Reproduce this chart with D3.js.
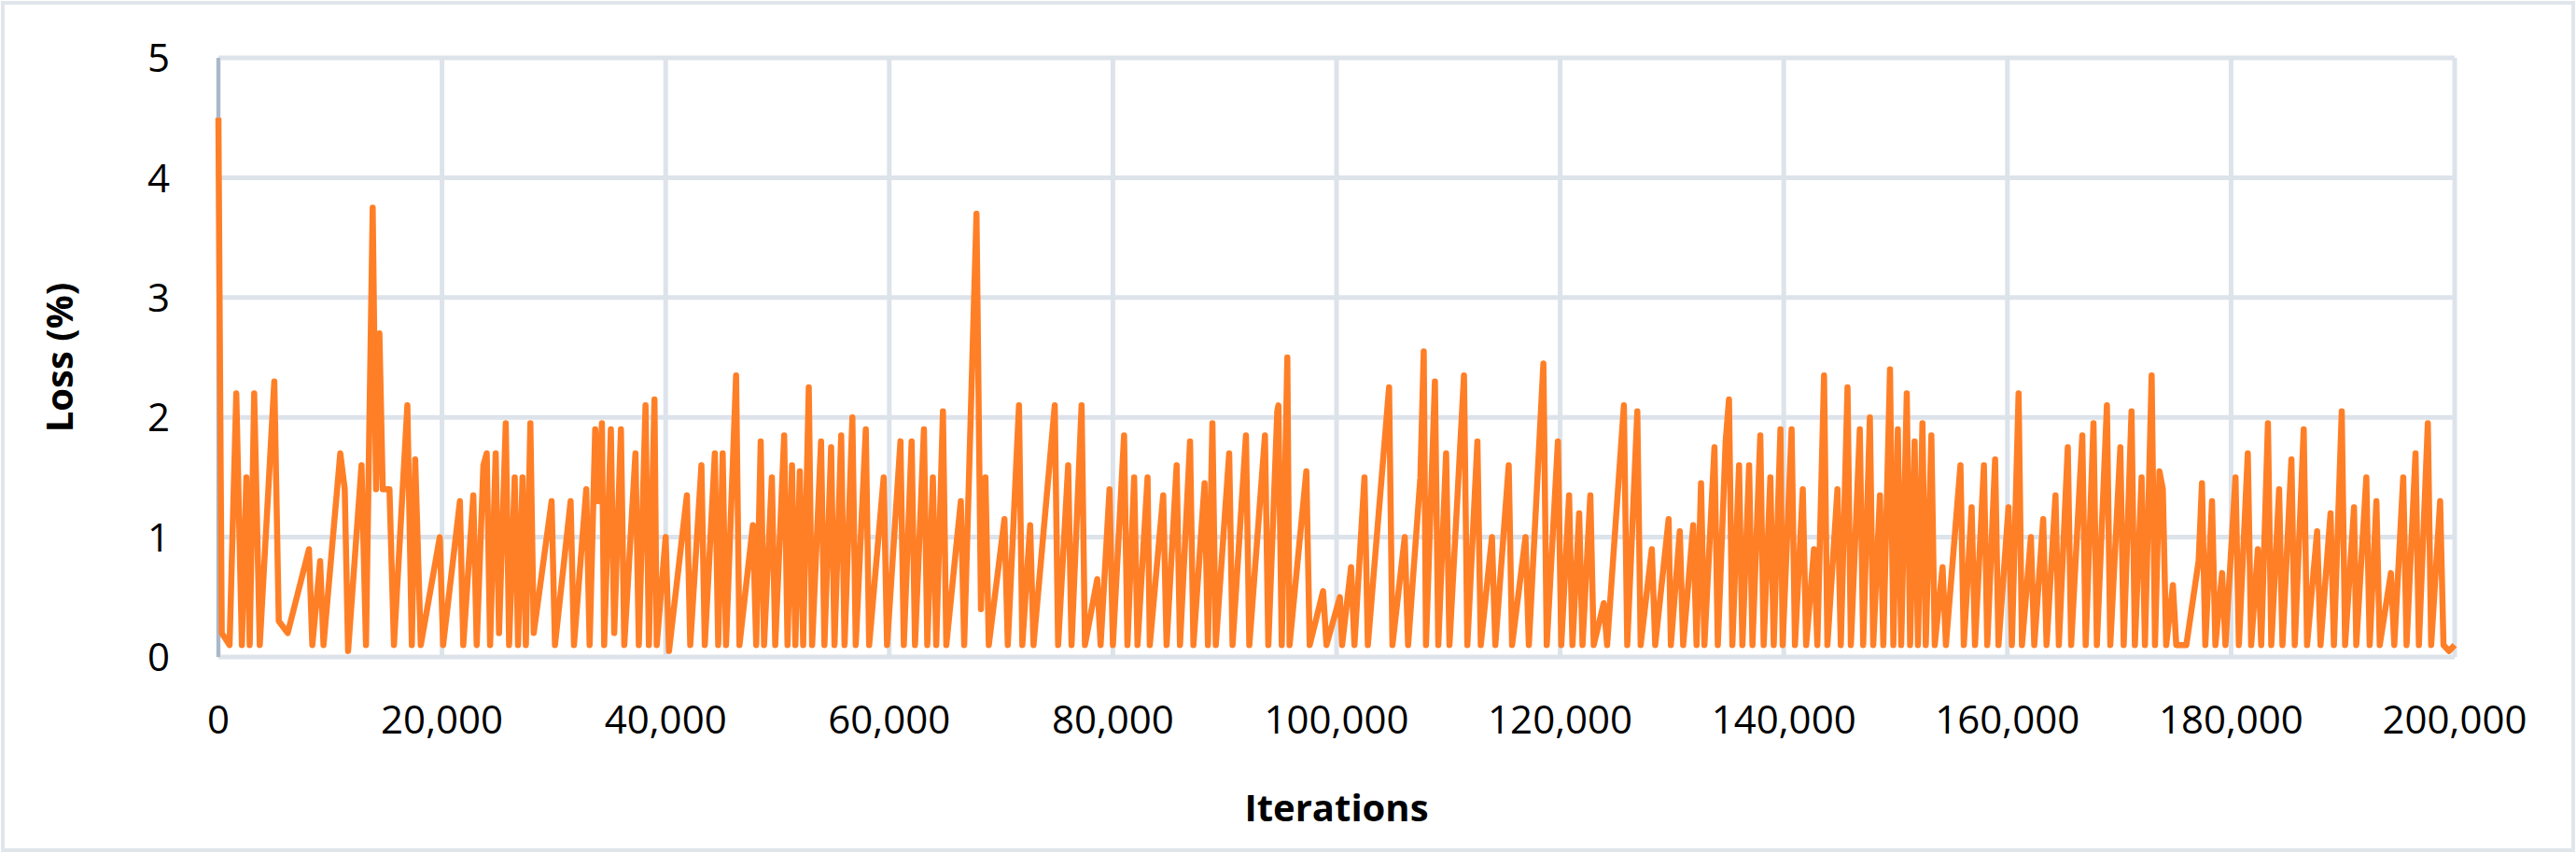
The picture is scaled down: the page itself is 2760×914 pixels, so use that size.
<!DOCTYPE html>
<html><head><meta charset="utf-8">
<script src="https://cdn.jsdelivr.net/npm/d3@7"></script>
<style>body{margin:0;background:#fff}svg{display:block}</style>
</head><body>
<script>
// iterations (thousands) and loss (%)
const iterK = [0,0.3,1.0,1.6,2.1,2.5,2.8,3.2,3.7,5.0,5.4,6.2,8.1,8.4,9.1,9.4,10.9,11.3,11.6,12.8,13.2,13.8,14.1,14.4,14.7,15.3,15.7,16.9,17.3,17.6,18.1,19.8,20.1,21.6,21.9,22.8,23.1,23.7,24.0,24.3,24.8,25.1,25.7,26.0,26.5,26.8,27.2,27.5,27.9,28.2,29.8,30.1,31.5,31.8,32.9,33.2,33.7,34.0,34.3,34.5,35.1,35.4,36.0,36.3,37.3,37.6,38.2,38.5,39.0,39.2,40.0,40.3,41.9,42.2,43.2,43.5,44.4,44.7,45.1,45.4,46.3,46.6,47.8,48.1,48.5,48.8,49.5,49.8,50.6,50.9,51.3,51.6,52.0,52.3,52.8,53.1,53.9,54.2,54.8,55.1,55.7,56.0,56.7,57.0,57.9,58.2,59.5,59.8,61.0,61.3,62.0,62.3,63.1,63.4,63.9,64.2,64.8,65.1,66.4,66.7,67.8,68.2,68.6,68.9,70.3,70.6,71.6,71.9,72.6,72.9,74.8,75.1,76.0,76.3,77.2,77.5,78.6,78.9,79.7,80.0,81.0,81.3,81.9,82.2,83.1,83.3,84.5,84.8,85.7,86.0,86.9,87.2,88.2,88.5,88.9,89.2,90.4,90.7,91.9,92.2,93.6,93.9,94.7,94.8,95.1,95.6,95.8,97.3,97.6,98.8,99.1,100.3,100.5,101.3,101.6,102.5,102.8,104.7,105.0,106.1,106.4,107.5,107.8,108.0,108.8,109.1,109.8,110.1,111.4,111.7,112.6,112.9,113.9,114.2,115.4,115.7,116.9,117.2,118.5,118.8,119.8,120.1,120.8,121.1,121.7,122.0,122.7,123.0,123.9,124.2,125.7,126.0,126.9,127.2,128.2,128.5,129.7,129.9,130.7,131.0,131.9,132.2,132.6,132.9,133.8,134.1,134.8,135.1,135.4,136.0,136.3,136.9,137.2,137.9,138.2,138.8,139.1,139.7,139.9,140.7,141.0,141.7,142.0,142.7,143.0,143.6,143.9,144.8,145.1,145.7,146.0,146.8,147.1,147.7,148.0,148.6,148.9,149.5,149.8,150.2,150.5,151.0,151.3,151.7,152.0,152.4,152.7,153.2,153.5,154.2,154.5,155.8,156.1,156.8,157.1,157.9,158.2,158.9,159.2,160.1,160.4,161.0,161.3,162.1,162.4,163.2,163.5,164.3,164.6,165.4,165.7,166.7,167.0,167.7,168.0,168.9,169.2,170.1,170.4,171.1,171.4,172.0,172.3,172.9,173.2,173.6,173.9,174.2,174.8,175.1,176.0,177.1,177.4,177.7,178.3,178.6,179.2,179.5,180.4,180.7,181.5,181.8,182.4,182.7,183.3,183.6,184.3,184.6,185.4,185.7,186.5,186.8,187.7,188.0,188.9,189.2,189.9,190.2,191.0,191.2,192.1,192.4,193.0,193.3,194.3,194.6,195.4,195.7,196.5,196.8,197.6,197.9,198.7,199.0,199.5,200.0];
const loss = [4.5,0.2,0.1,2.2,0.1,1.5,0.1,2.2,0.1,2.3,0.3,0.2,0.9,0.1,0.8,0.1,1.7,1.4,0.05,1.6,0.1,3.75,1.4,2.7,1.4,1.4,0.1,2.1,0.1,1.65,0.1,1.0,0.1,1.3,0.1,1.35,0.1,1.6,1.7,0.1,1.7,0.2,1.95,0.1,1.5,0.1,1.5,0.1,1.95,0.2,1.3,0.1,1.3,0.1,1.4,0.1,1.9,1.3,1.95,0.1,1.9,0.2,1.9,0.1,1.7,0.1,2.1,0.1,2.15,0.1,1.0,0.05,1.35,0.1,1.6,0.1,1.7,0.1,1.7,0.1,2.35,0.1,1.1,0.1,1.8,0.1,1.5,0.1,1.85,0.1,1.6,0.1,1.55,0.1,2.25,0.1,1.8,0.1,1.75,0.1,1.85,0.1,2.0,0.1,1.9,0.1,1.5,0.1,1.8,0.1,1.8,0.1,1.9,0.1,1.5,0.1,2.05,0.1,1.3,0.1,3.7,0.4,1.5,0.1,1.15,0.1,2.1,0.1,1.1,0.1,2.1,0.1,1.6,0.1,2.1,0.1,0.65,0.1,1.4,0.1,1.85,0.1,1.5,0.1,1.5,0.1,1.35,0.1,1.6,0.1,1.8,0.1,1.45,0.1,1.95,0.1,1.7,0.1,1.85,0.1,1.85,0.1,2.05,2.1,0.1,2.5,0.1,1.55,0.1,0.55,0.1,0.5,0.1,0.75,0.1,1.5,0.1,2.25,0.1,1.0,0.1,1.5,2.55,0.1,2.3,0.1,1.7,0.1,2.35,0.1,1.8,0.1,1.0,0.1,1.6,0.1,1.0,0.1,2.45,0.1,1.8,0.1,1.35,0.1,1.2,0.1,1.35,0.1,0.45,0.1,2.1,0.1,2.05,0.1,0.9,0.1,1.15,0.1,1.05,0.1,1.1,0.1,1.45,0.1,1.75,0.1,1.8,2.15,0.1,1.6,0.1,1.6,0.1,1.85,0.1,1.5,0.1,1.9,0.1,1.9,0.1,1.4,0.1,0.9,0.1,2.35,0.1,1.4,0.1,2.25,0.1,1.9,0.1,2.0,0.1,1.35,0.1,2.4,0.1,1.9,0.1,2.2,0.1,1.8,0.1,1.95,0.1,1.85,0.1,0.75,0.1,1.6,0.1,1.25,0.1,1.6,0.1,1.65,0.1,1.25,0.1,2.2,0.1,1.0,0.1,1.15,0.1,1.35,0.1,1.75,0.1,1.85,0.1,1.95,0.1,2.1,0.1,1.75,0.1,2.05,0.1,1.5,0.1,2.35,0.1,1.55,1.4,0.1,0.6,0.1,0.1,0.8,1.45,0.1,1.3,0.1,0.7,0.1,1.5,0.1,1.7,0.1,0.9,0.1,1.95,0.1,1.4,0.1,1.65,0.1,1.9,0.1,1.05,0.1,1.2,0.1,2.05,0.1,1.25,0.1,1.5,0.1,1.3,0.1,0.7,0.1,1.5,0.1,1.7,0.1,1.95,0.1,1.3,0.1,0.05,0.1];
const xTicks = [0,20000,40000,60000,80000,100000,120000,140000,160000,180000,200000];
const yTicks = [0,1,2,3,4,5];
const xTitle = "Iterations", yTitle = "Loss (%)";

const W=2760,H=914, L=234,R=2630,T=62,B=704;
const svg=d3.select("body").append("svg").attr("width",W).attr("height",H);
svg.append("rect").attr("x",3).attr("y",3).attr("width",W-6).attr("height",H-6).attr("fill","#fff").attr("stroke","#dfe5ea").attr("stroke-width",4);
const x=d3.scaleLinear().domain([0,200000]).range([L,R]);
const y=d3.scaleLinear().domain([0,5]).range([B,T]);
const grid="#dde3ea", font="'Open Sans', sans-serif";
svg.append("g").selectAll("line").data(xTicks).join("line").attr("x1",d=>x(d)).attr("x2",d=>x(d)).attr("y1",T).attr("y2",B).attr("stroke",grid).attr("stroke-width",5);
svg.append("g").selectAll("line").data(yTicks).join("line").attr("x1",L).attr("x2",R).attr("y1",d=>y(d)).attr("y2",d=>y(d)).attr("stroke",grid).attr("stroke-width",5);
svg.append("line").attr("x1",L).attr("x2",L).attr("y1",T).attr("y2",B).attr("stroke","#a9b8c9").attr("stroke-width",4);
svg.append("g").selectAll("text").data(yTicks).join("text").attr("x",182).attr("y",d=>y(d)).attr("dy","0.36em").attr("text-anchor","end").attr("font-family",font).attr("font-size",42).text(d=>d);
svg.append("g").selectAll("text").data(xTicks).join("text").attr("x",d=>x(d)).attr("y",786).attr("text-anchor","middle").attr("font-family",font).attr("font-size",42).text(d3.format(","));
const data=iterK.map((k,i)=>[k*1000,loss[i]]);
svg.append("path").datum(data).attr("d",d3.line().x(d=>x(d[0])).y(d=>y(d[1]))).attr("fill","none").attr("stroke","#ff7f27").attr("stroke-width",6.5).attr("stroke-linejoin","round");
svg.append("text").attr("x",(L+R)/2).attr("y",880).attr("text-anchor","middle").attr("font-family",font).attr("font-weight","bold").attr("font-size",40).text(xTitle);
svg.append("text").attr("transform","translate(78,"+((T+B)/2)+") rotate(-90)").attr("text-anchor","middle").attr("font-family",font).attr("font-weight","bold").attr("font-size",40).text(yTitle);
</script>
</body></html>
